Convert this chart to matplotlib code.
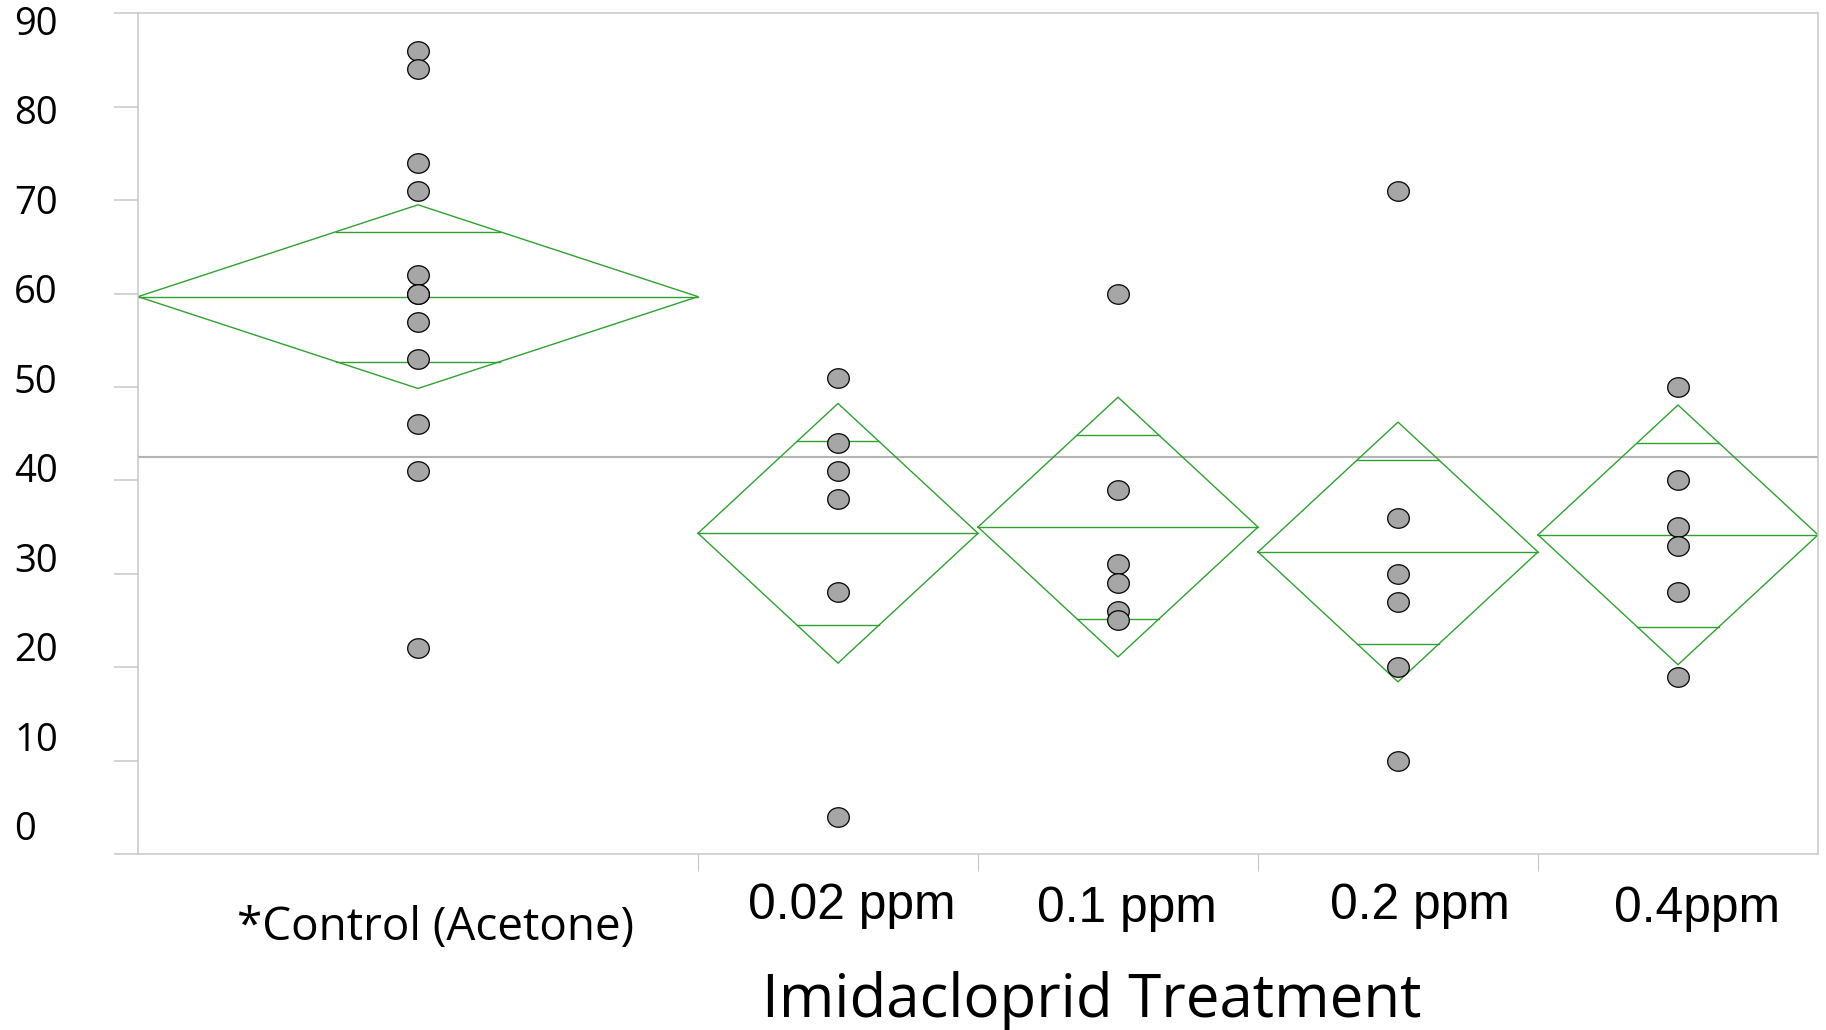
import numpy as np
import matplotlib
matplotlib.use("Agg")
import matplotlib.pyplot as plt

# ---------------------------------------------------------------------------
# Data
# ---------------------------------------------------------------------------
groups = ["*Control (Acetone)", "0.02 ppm", "0.1 ppm", "0.2 ppm", "0.4ppm"]

control = [86, 84, 74, 71, 62, 60, 60, 57, 53, 46, 41, 22]
ppm_002 = [51, 44, 41, 38, 28, 4]
ppm_01 = [60, 39, 31, 29, 26, 25]
ppm_02 = [71, 36, 30, 27, 20, 10]
ppm_04 = [50, 40, 35, 33, 28, 19]

yticks = [0, 10, 20, 30, 40, 50, 60, 70, 80, 90]
xlabel = "Imidacloprid Treatment"

# t(0.975, df=31) for the pooled 95% means diamonds
T_CRIT = 2.0395

# ---------------------------------------------------------------------------
# Layout (pixels in the 1826x1030 output)
# ---------------------------------------------------------------------------
W, H, DPI = 1826, 1030, 100
AX_L, AX_R, AX_T, AX_B = 138, 1818, 13.3, 854
YLAB_X = 14
YLAB_BASE_TOP, YLAB_BASE_BOT = 35, 840        # baselines of "90" and "0"
CAT_POS = [(436, 940), (852, 919), (1127, 922), (1420, 919), (1697, 922)]
TITLE_POS = (1092, 1017)

GREEN = "#30a030"
FRAME = "#c8c8c8"
POINT = "#a6a6a6"


def fx(x):
    return x / W


def fy(y):
    return 1 - y / H


series = [control, ppm_002, ppm_01, ppm_02, ppm_04]
counts = np.array([len(s) for s in series])
bounds = np.concatenate([[0], np.cumsum(counts)])
centers = (bounds[:-1] + bounds[1:]) / 2.0

means = np.array([np.mean(s) for s in series])
ss_within = sum(np.sum((np.array(s) - m) ** 2) for s, m in zip(series, means))
df = counts.sum() - len(series)
s_pooled = np.sqrt(ss_within / df)
ci_half = T_CRIT * s_pooled / np.sqrt(counts)
grand_mean = np.mean(np.concatenate(series))

fig = plt.figure(figsize=(W / DPI, H / DPI), dpi=DPI)
ax = fig.add_axes([fx(AX_L), fy(AX_B), (AX_R - AX_L) / W, (AX_B - AX_T) / H])
ax.set_xlim(0, bounds[-1])
ax.set_ylim(0, 90)

for sp in ax.spines.values():
    sp.set_color(FRAME)
    sp.set_linewidth(1.1)

ax.set_yticks(yticks)
ax.tick_params(axis="y", length=17.3, width=1.1, color=FRAME, direction="out",
               labelleft=False)
ax.set_xticks(bounds[1:-1])
ax.tick_params(axis="x", length=12.2, width=0.8, color=FRAME, direction="out",
               labelbottom=False)

# grand mean reference line
ax.axhline(grand_mean, color="#b4b4b4", lw=1.5, zorder=1)

# means diamonds with overlap marks
for i, (m, h) in enumerate(zip(means, ci_half)):
    lo, hi, c = bounds[i], bounds[i + 1], centers[i]
    ax.plot([lo, c, hi, c, lo], [m, m + h, m, m - h, m], color=GREEN, lw=1.0,
            zorder=2)
    ax.plot([lo, hi], [m, m], color=GREEN, lw=1.0, zorder=2)
    half = (1 - 1 / np.sqrt(2)) * (hi - lo) / 2
    for yy in (m + h / np.sqrt(2), m - h / np.sqrt(2)):
        ax.plot([c - half, c + half], [yy, yy], color=GREEN, lw=1.0, zorder=2)

# raw points (slightly wide ellipses, as drawn in the original)
theta = np.linspace(0, 2 * np.pi, 60)
ellipse = np.column_stack([np.cos(theta), 0.9 * np.sin(theta)])
for c, s in zip(centers, series):
    ax.plot([c] * len(s), s, marker=ellipse, ls="none", ms=15.6, mfc=POINT,
            mec="black", mew=0.9, zorder=4, clip_on=False)

# y tick labels (left aligned, as in the original)
step = (YLAB_BASE_BOT - YLAB_BASE_TOP) / (yticks[-1] - yticks[0])
for v in yticks:
    yb = YLAB_BASE_BOT - (v - yticks[0]) * step
    fig.text(fx(YLAB_X), fy(yb), str(v), ha="left", va="baseline",
             fontsize=27.5, family="Open Sans", color="black")

# category labels
for i, (name, (px, py)) in enumerate(zip(groups, CAT_POS)):
    fam = "Open Sans" if i == 0 else "Liberation Sans"
    fig.text(fx(px), fy(py), name, ha="center", va="baseline",
             fontsize=33 if i == 0 else 35.8, family=fam, color="black")

fig.text(fx(TITLE_POS[0]), fy(TITLE_POS[1]), xlabel, ha="center", va="baseline",
         fontsize=43.2, family="Open Sans", color="black")

fig.savefig("out.png", dpi=DPI)
